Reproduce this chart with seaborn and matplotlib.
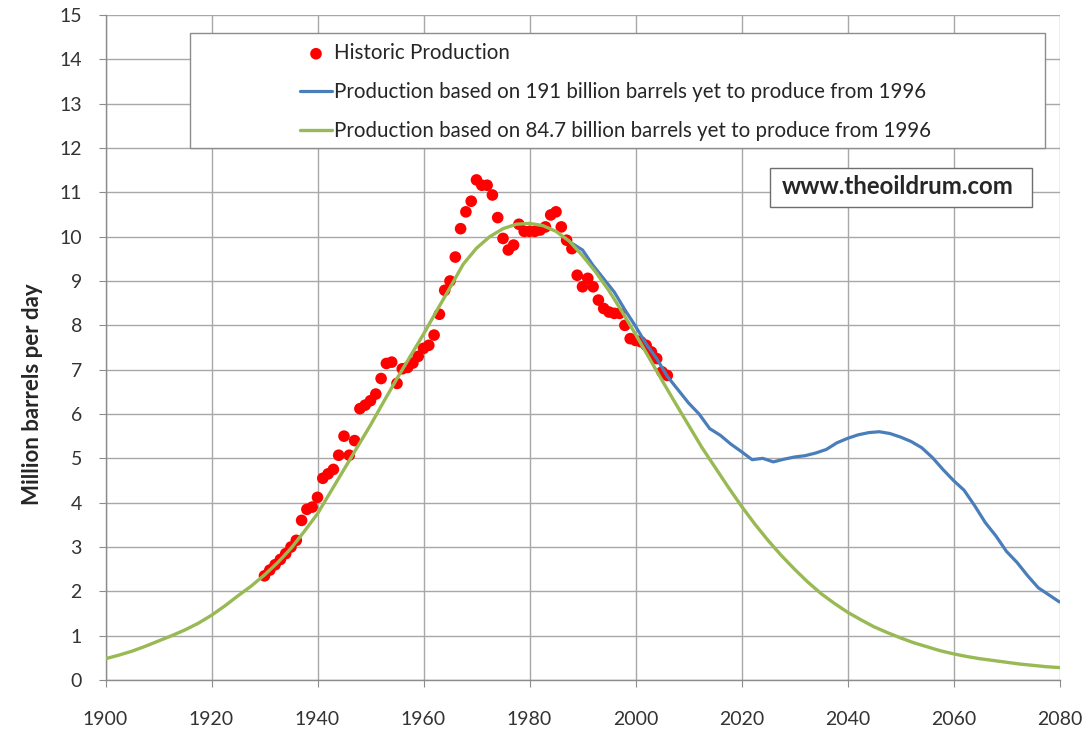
import numpy as np
import pandas as pd
import matplotlib
matplotlib.use("Agg")
import matplotlib.pyplot as plt
from matplotlib.patches import Rectangle
import seaborn as sns

# historic production, million barrels per day
hist_years = list(range(1930, 2007))
hist_values = [2.35, 2.48, 2.6, 2.72, 2.85, 3.0, 3.15, 3.6, 3.85, 3.9,
               4.12, 4.55, 4.65, 4.75, 5.07, 5.5, 5.07, 5.4, 6.12, 6.2,
               6.3, 6.45, 6.8, 7.14, 7.17, 6.69, 7.02, 7.05, 7.15, 7.3,
               7.48, 7.55, 7.78, 8.25, 8.79, 9.0, 9.54, 10.18, 10.56, 10.8,
               11.28, 11.16, 11.16, 10.94, 10.43, 9.96, 9.7, 9.81, 10.28, 10.12,
               10.12, 10.12, 10.15, 10.22, 10.49, 10.56, 10.22, 9.92, 9.73, 9.13,
               8.87, 9.06, 8.87, 8.57, 8.38, 8.3, 8.27, 8.27, 8.0, 7.7,
               7.66, 7.63, 7.55, 7.4, 7.25, 6.95, 6.87]

# 191 billion barrels case
blue_years = [1988, 1990, 1992, 1994, 1996, 1998, 2000, 2002, 2004, 2006,
              2008, 2010, 2012, 2014, 2016, 2018, 2020, 2022, 2024, 2026,
              2028, 2030, 2032, 2034, 2036, 2038, 2040, 2042, 2044, 2046,
              2048, 2050, 2052, 2054, 2056, 2058, 2060, 2062, 2064, 2066,
              2068, 2070, 2072, 2074, 2076, 2078, 2080]
blue_values = [9.85, 9.7, 9.35, 9.05, 8.75, 8.35, 7.98, 7.58, 7.25, 6.85,
               6.55, 6.25, 6.0, 5.67, 5.52, 5.32, 5.15, 4.97, 5.0, 4.92,
               4.98, 5.03, 5.06, 5.12, 5.2, 5.35, 5.45, 5.53, 5.58, 5.6,
               5.56, 5.48, 5.38, 5.24, 5.02, 4.75, 4.5, 4.28, 3.93, 3.55,
               3.25, 2.9, 2.65, 2.35, 2.08, 1.92, 1.76]

# 84.7 billion barrels case, read every 2.5 years
green_years = [1900 + 2.5 * i for i in range(73)]
green_values = [0.48, 0.56, 0.65, 0.76, 0.88, 1.0, 1.13, 1.28, 1.46, 1.67,
                1.9, 2.12, 2.37, 2.65, 2.97, 3.35, 3.75, 4.25, 4.75, 5.25,
                5.75, 6.28, 6.8, 7.3, 7.8, 8.33, 8.85, 9.38, 9.74, 10.0,
                10.18, 10.28, 10.3, 10.25, 10.12, 9.9, 9.57, 9.2, 8.78, 8.3,
                7.8, 7.28, 6.76, 6.25, 5.75, 5.25, 4.8, 4.35, 3.92, 3.52,
                3.15, 2.81, 2.5, 2.21, 1.95, 1.73, 1.53, 1.36, 1.2, 1.07,
                0.95, 0.84, 0.75, 0.66, 0.59, 0.53, 0.48, 0.44, 0.4, 0.36,
                0.33, 0.3, 0.28]

x_ticks = list(range(1900, 2081, 20))
y_ticks = list(range(0, 16))

lab_hist = "Historic Production"
lab_blue = "Production based on 191 billion barrels yet to produce from 1996"
lab_green = "Production based on 84.7 billion barrels yet to produce from 1996"

hist = pd.DataFrame({"year": hist_years, "value": hist_values})
blue = pd.DataFrame({"year": blue_years, "value": blue_values})
green = pd.DataFrame({"year": green_years, "value": green_values})

sns.set_style("whitegrid")
plt.rcParams["font.family"] = ["Lato", "DejaVu Sans"]

fig = plt.figure(figsize=(10.89, 7.32), dpi=100)
ax = fig.add_axes([105.5 / 1089, 1 - 680 / 732, 954 / 1089, 665 / 732])

sns.scatterplot(data=hist, x="year", y="value", ax=ax, color="#ff0000",
                s=70, edgecolor="none", label=lab_hist, zorder=3)
sns.lineplot(data=blue, x="year", y="value", ax=ax, color="#4a7ebb",
             linewidth=2.3, label=lab_blue, zorder=4)
sns.lineplot(data=green, x="year", y="value", ax=ax, color="#98b954",
             linewidth=2.4, label=lab_green, zorder=5)

ax.set_xlim(1900, 2080)
ax.set_ylim(0, 15)
ax.set_xticks(x_ticks)
ax.set_yticks(y_ticks)
ax.grid(True, color="#a8a8a8", linewidth=1.0)
for side in ["left", "bottom"]:
    ax.spines[side].set_color("#8c8c8c")
    ax.spines[side].set_linewidth(1.0)
for side in ["top", "right"]:
    ax.spines[side].set_visible(False)
ax.tick_params(axis="both", which="both", direction="out", length=5,
               color="#8c8c8c", labelsize=14, labelcolor="#333333")
ax.tick_params(axis="x", pad=17, bottom=True)
ax.tick_params(axis="y", pad=12, left=True)
ax.set_xlabel("")
ax.set_ylabel("Million barrels per day", fontsize=16, fontweight="bold")
ax.yaxis.label.set_va("center")
ax.yaxis.set_label_coords(-0.076, 0.43)

# legend box
ax.add_patch(Rectangle((0.0886, 0.8), 0.896, 0.173, transform=ax.transAxes,
                       facecolor="white", edgecolor="#8c8c8c", linewidth=1.0,
                       zorder=6))
leg = ax.legend(loc="upper left", bbox_to_anchor=(0.184, 0.9855), frameon=False,
                fontsize=14.8, handlelength=1.6, handletextpad=0.1,
                labelspacing=0.93, borderpad=0.4)
for t in leg.get_texts():
    t.set_color("#262626")
leg.set_zorder(7)

# watermark box
ax.add_patch(Rectangle((0.6966, 0.711), 0.2746, 0.0586, transform=ax.transAxes,
                       facecolor="white", edgecolor="#6e6e6e", linewidth=1.0,
                       zorder=6))
ax.text(0.8307, 0.7414, "www.theoildrum.com", transform=ax.transAxes,
        ha="center", va="center", fontsize=17.3, fontweight="bold", zorder=7)

fig.savefig("out.png", dpi=100)
